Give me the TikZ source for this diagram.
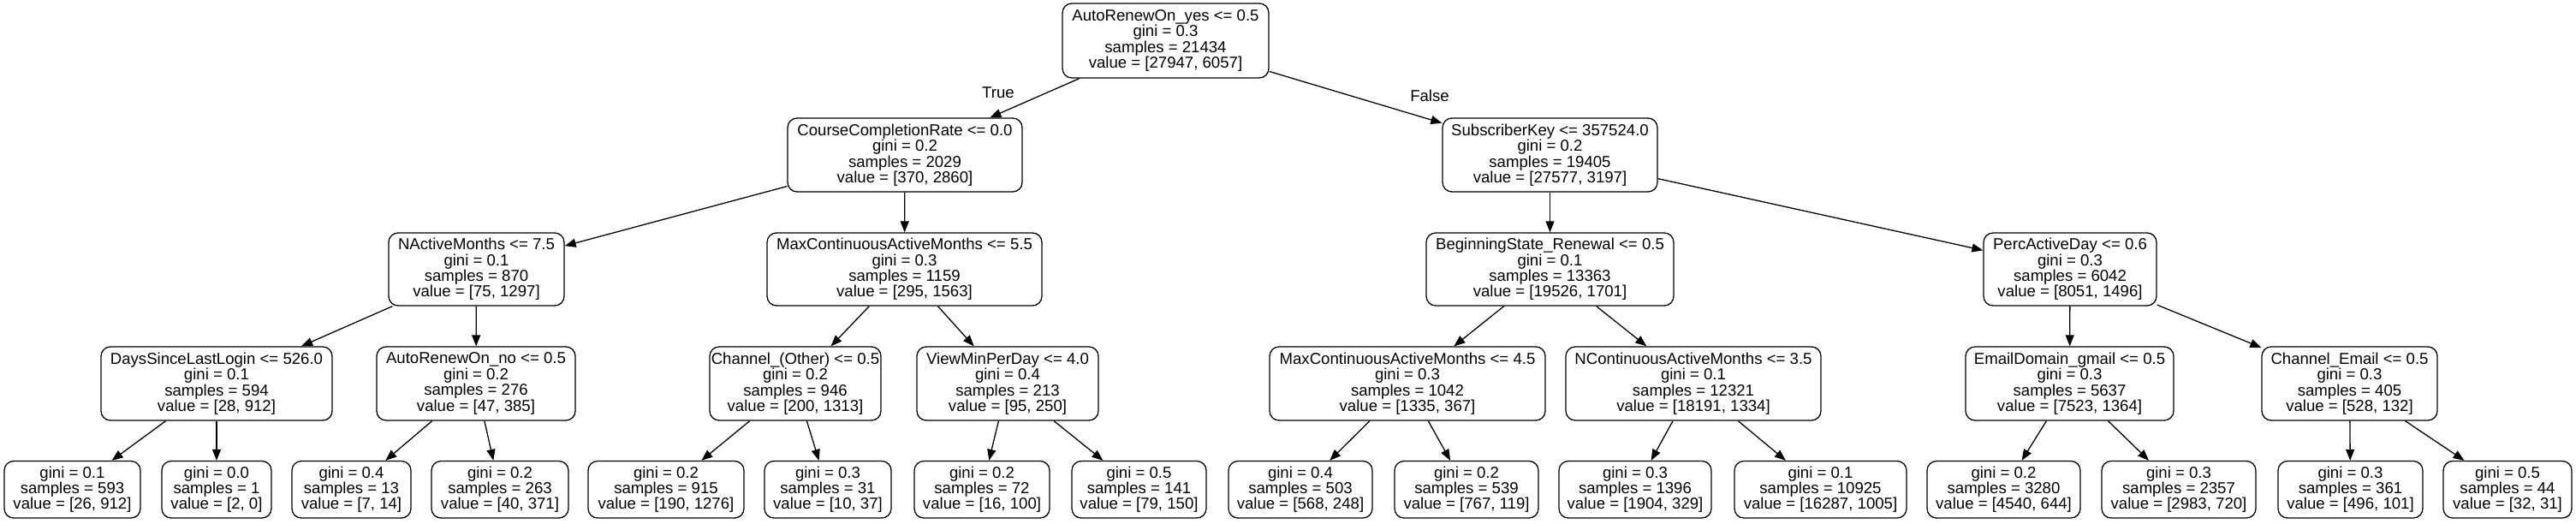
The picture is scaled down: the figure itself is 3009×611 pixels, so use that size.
\documentclass[tikz,border=0pt]{standalone}
\usepackage{fontspec}
\setmainfont{Liberation Sans}
\usetikzlibrary{arrows.meta}
\newcommand\treefont{\fontsize{18.6}{18.4}\selectfont}
\tikzset{
  tbox/.style={draw, line width=1.3pt, rounded corners=11pt, inner sep=0pt, align=center, font=\treefont},
  tedge/.style={line width=1.3pt, -{Triangle[length=13pt,width=10pt]}},
  tlbl/.style={font=\treefont, inner sep=0pt, anchor=base}
}
\begin{document}
\begin{tikzpicture}[x=1pt,y=-1pt]
\useasboundingbox (0,0) rectangle (3009,611);
\fill[white] (0,0) rectangle (3009,611);
% level 0
\node[tbox, minimum width=241pt, minimum height=87pt] (n0) at (1361.5,47.5) {AutoRenewOn\_yes <= 0.5\\gini = 0.3\\samples = 21434\\value = [27947, 6057]};
% level 1
\node[tbox, minimum width=274pt, minimum height=86pt] (n1) at (1057,181) {CourseCompletionRate <= 0.0\\gini = 0.2\\samples = 2029\\value = [370, 2860]};
\node[tbox, minimum width=251pt, minimum height=86pt] (n16) at (1810.5,181) {SubscriberKey <= 357524.0\\gini = 0.2\\samples = 19405\\value = [27577, 3197]};
% level 2
\node[tbox, minimum width=205pt, minimum height=85pt] (n2) at (556.5,314.5) {NActiveMonths <= 7.5\\gini = 0.1\\samples = 870\\value = [75, 1297]};
\node[tbox, minimum width=321pt, minimum height=85pt] (n9) at (1056.5,314.5) {MaxContinuousActiveMonths <= 5.5\\gini = 0.3\\samples = 1159\\value = [295, 1563]};
\node[tbox, minimum width=289pt, minimum height=85pt] (n17) at (1810.5,314.5) {BeginningState\_Renewal <= 0.5\\gini = 0.1\\samples = 13363\\value = [19526, 1701]};
\node[tbox, minimum width=202pt, minimum height=85pt] (n24) at (2418,314.5) {PercActiveDay <= 0.6\\gini = 0.3\\samples = 6042\\value = [8051, 1496]};
% level 3
\node[tbox, minimum width=270pt, minimum height=86pt] (n3) at (253,448) {DaysSinceLastLogin <= 526.0\\gini = 0.1\\samples = 594\\value = [28, 912]};
\node[tbox, minimum width=232pt, minimum height=86pt] (n6) at (556,448) {AutoRenewOn\_no <= 0.5\\gini = 0.2\\samples = 276\\value = [47, 385]};
\node[tbox, minimum width=200pt, minimum height=86pt] (n10) at (929,448) {Channel\_(Other) <= 0.5\\gini = 0.2\\samples = 946\\value = [200, 1313]};
\node[tbox, minimum width=212pt, minimum height=86pt] (n13) at (1177,448) {ViewMinPerDay <= 4.0\\gini = 0.4\\samples = 213\\value = [95, 250]};
\node[tbox, minimum width=322pt, minimum height=86pt] (n18) at (1644,448) {MaxContinuousActiveMonths <= 4.5\\gini = 0.3\\samples = 1042\\value = [1335, 367]};
\node[tbox, minimum width=298pt, minimum height=86pt] (n21) at (1978,448) {NContinuousActiveMonths <= 3.5\\gini = 0.1\\samples = 12321\\value = [18191, 1334]};
\node[tbox, minimum width=243pt, minimum height=86pt] (n25) at (2417.5,448) {EmailDomain\_gmail <= 0.5\\gini = 0.3\\samples = 5637\\value = [7523, 1364]};
\node[tbox, minimum width=205pt, minimum height=86pt] (n28) at (2744.5,448) {Channel\_Email <= 0.5\\gini = 0.3\\samples = 405\\value = [528, 132]};
% leaves
\node[tbox, minimum width=159pt, minimum height=66.5pt] (n4) at (84.5,571.75) {gini = 0.1\\samples = 593\\value = [26, 912]};
\node[tbox, minimum width=128pt, minimum height=66.5pt] (n5) at (253,571.75) {gini = 0.0\\samples = 1\\value = [2, 0]};
\node[tbox, minimum width=139pt, minimum height=66.5pt] (n7) at (410.5,571.75) {gini = 0.4\\samples = 13\\value = [7, 14]};
\node[tbox, minimum width=160pt, minimum height=66.5pt] (n8) at (584,571.75) {gini = 0.2\\samples = 263\\value = [40, 371]};
\node[tbox, minimum width=182pt, minimum height=66.5pt] (n11) at (778,571.75) {gini = 0.2\\samples = 915\\value = [190, 1276]};
\node[tbox, minimum width=148pt, minimum height=66.5pt] (n12) at (967,571.75) {gini = 0.3\\samples = 31\\value = [10, 37]};
\node[tbox, minimum width=158pt, minimum height=66.5pt] (n14) at (1147,571.75) {gini = 0.2\\samples = 72\\value = [16, 100]};
\node[tbox, minimum width=157pt, minimum height=66.5pt] (n15) at (1330.5,571.75) {gini = 0.5\\samples = 141\\value = [79, 150]};
\node[tbox, minimum width=168pt, minimum height=66.5pt] (n19) at (1519,571.75) {gini = 0.4\\samples = 503\\value = [568, 248]};
\node[tbox, minimum width=168pt, minimum height=66.5pt] (n20) at (1713,571.75) {gini = 0.2\\samples = 539\\value = [767, 119]};
\node[tbox, minimum width=178pt, minimum height=66.5pt] (n22) at (1910,571.75) {gini = 0.3\\samples = 1396\\value = [1904, 329]};
\node[tbox, minimum width=201pt, minimum height=66.5pt] (n23) at (2126.5,571.75) {gini = 0.1\\samples = 10925\\value = [16287, 1005]};
\node[tbox, minimum width=179pt, minimum height=66.5pt] (n26) at (2340.5,571.75) {gini = 0.2\\samples = 3280\\value = [4540, 644]};
\node[tbox, minimum width=180pt, minimum height=66.5pt] (n27) at (2545,571.75) {gini = 0.3\\samples = 2357\\value = [2983, 720]};
\node[tbox, minimum width=169pt, minimum height=66.5pt] (n29) at (2745.5,571.75) {gini = 0.3\\samples = 361\\value = [496, 101]};
\node[tbox, minimum width=150pt, minimum height=66.5pt] (n30) at (2929,571.75) {gini = 0.5\\samples = 44\\value = [32, 31]};
% edge labels
\node[tlbl] (lt) at (1166,114) {True};
\node[tlbl] (lf) at (1670,118) {False};
% edges
\draw[tedge] (n0) -- (n1);
\draw[tedge] (n0) -- (n16);
\draw[tedge] (n1) -- (n2);
\draw[tedge] (n1) -- (n9);
\draw[tedge] (n16) -- (n17);
\draw[tedge] (n16) -- (n24);
\draw[tedge] (n2) -- (n3);
\draw[tedge] (n2) -- (n6);
\draw[tedge] (n9) -- (n10);
\draw[tedge] (n9) -- (n13);
\draw[tedge] (n17) -- (n18);
\draw[tedge] (n17) -- (n21);
\draw[tedge] (n24) -- (n25);
\draw[tedge] (n24) -- (n28);
\draw[tedge] (n3) -- (n4);
\draw[tedge] (n3) -- (n5);
\draw[tedge] (n6) -- (n7);
\draw[tedge] (n6) -- (n8);
\draw[tedge] (n10) -- (n11);
\draw[tedge] (n10) -- (n12);
\draw[tedge] (n13) -- (n14);
\draw[tedge] (n13) -- (n15);
\draw[tedge] (n18) -- (n19);
\draw[tedge] (n18) -- (n20);
\draw[tedge] (n21) -- (n22);
\draw[tedge] (n21) -- (n23);
\draw[tedge] (n25) -- (n26);
\draw[tedge] (n25) -- (n27);
\draw[tedge] (n28) -- (n29);
\draw[tedge] (n28) -- (n30);
\end{tikzpicture}
\end{document}
